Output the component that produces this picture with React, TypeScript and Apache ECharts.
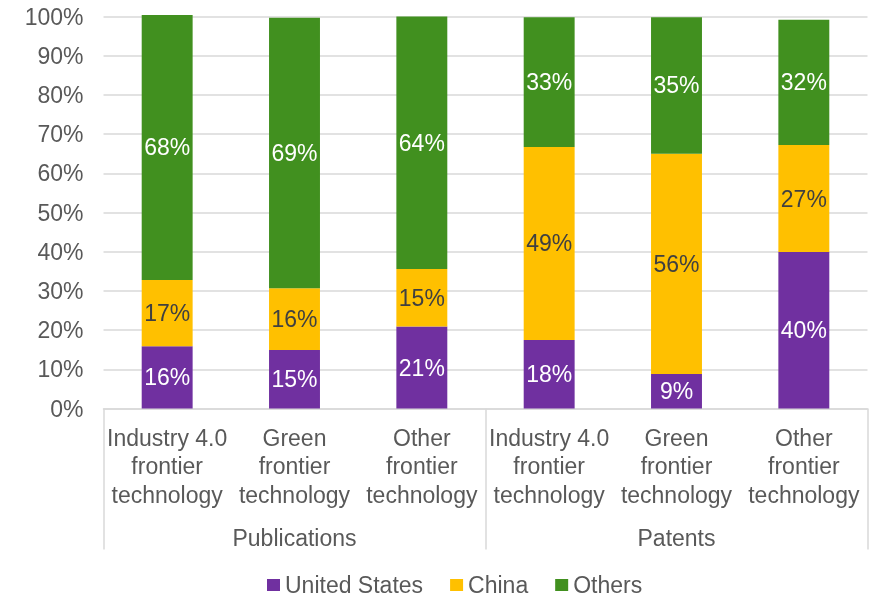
import React, { useEffect, useRef } from "react";
import * as echarts from "echarts";

const categories = [
  "Industry 4.0\nfrontier\ntechnology",
  "Green\nfrontier\ntechnology",
  "Other\nfrontier\ntechnology",
  "Industry 4.0\nfrontier\ntechnology",
  "Green\nfrontier\ntechnology",
  "Other\nfrontier\ntechnology",
];
const groups = ["Publications", "Patents"];
const unitedStates = [15.9, 14.9, 20.9, 17.5, 8.8, 39.9];
const china = [16.9, 15.8, 14.7, 49.2, 56.2, 27.3];
const others = [67.6, 69.0, 64.4, 33.1, 34.8, 32.0];
const yTicks = { min: 0, max: 100, interval: 10 };

const FONT = "'Liberation Sans', Arial, sans-serif";
const GRAY = "#595959";
const GRID = "#D9D9D9";

export default function App() {
  const ref = useRef<HTMLDivElement>(null);
  useEffect(() => {
    if (!ref.current) return;
    const chart = echarts.init(ref.current, null, { renderer: "svg" });
    const labelFor = (color: string) => ({
      show: true,
      position: "inside",
      fontSize: 23,
      fontFamily: FONT,
      color,
      formatter: (p: any) => Math.round(p.value) + "%",
    });
    chart.setOption({
      animation: false,
      textStyle: { fontFamily: FONT },
      grid: { left: 103.5, right: 6.5, top: 16.5, bottom: 189.5, containLabel: false },
      legend: {
        left: 267,
        top: 573,
        itemWidth: 13,
        itemHeight: 12,
        itemGap: 27,
        padding: 0,
        icon: "rect",
        textStyle: { fontSize: 23, lineHeight: 24, color: GRAY, fontFamily: FONT },
        data: ["United States", "China", "Others"],
      },
      xAxis: [
        {
          type: "category",
          data: categories,
          position: "bottom",
          axisLine: { show: true, lineStyle: { color: GRID, width: 1.5 } },
          axisTick: { show: false },
          axisLabel: {
            interval: 0,
            fontSize: 23,
            lineHeight: 28.5,
            color: GRAY,
            margin: 15,
            fontFamily: FONT,
          },
        },
        {
          type: "category",
          data: groups,
          position: "bottom",
          axisLine: { show: false },
          axisTick: {
            show: true,
            interval: 0,
            length: 141,
            alignWithLabel: false,
            lineStyle: { color: GRID, width: 1.5 },
          },
          axisLabel: {
            interval: 0,
            fontSize: 23,
            lineHeight: 28,
            color: GRAY,
            margin: 115,
            fontFamily: FONT,
          },
        },
      ],
      yAxis: {
        type: "value",
        min: yTicks.min,
        max: yTicks.max,
        interval: yTicks.interval,
        axisLine: { show: false },
        axisTick: { show: false },
        splitLine: { lineStyle: { color: GRID, width: 1.5 } },
        axisLabel: {
          formatter: "{value}%",
          fontSize: 23,
          color: GRAY,
          margin: 20,
          fontFamily: FONT,
        },
      },
      series: [
        {
          name: "United States",
          type: "bar",
          stack: "total",
          barWidth: "40%",
          clip: false,
          data: unitedStates,
          itemStyle: { color: "#7030A0" },
          label: labelFor("#FFFFFF"),
        },
        {
          name: "China",
          type: "bar",
          stack: "total",
          barWidth: "40%",
          clip: false,
          data: china,
          itemStyle: { color: "#FFC000" },
          label: labelFor("#404040"),
        },
        {
          name: "Others",
          type: "bar",
          stack: "total",
          barWidth: "40%",
          clip: false,
          data: others,
          itemStyle: { color: "#41901F" },
          label: labelFor("#FFFFFF"),
        },
      ],
    });
    return () => chart.dispose();
  }, []);
  return (
    <div
      ref={ref}
      style={{ position: "fixed", left: 0, top: 0, width: 874, height: 598 }}
    />
  );
}
